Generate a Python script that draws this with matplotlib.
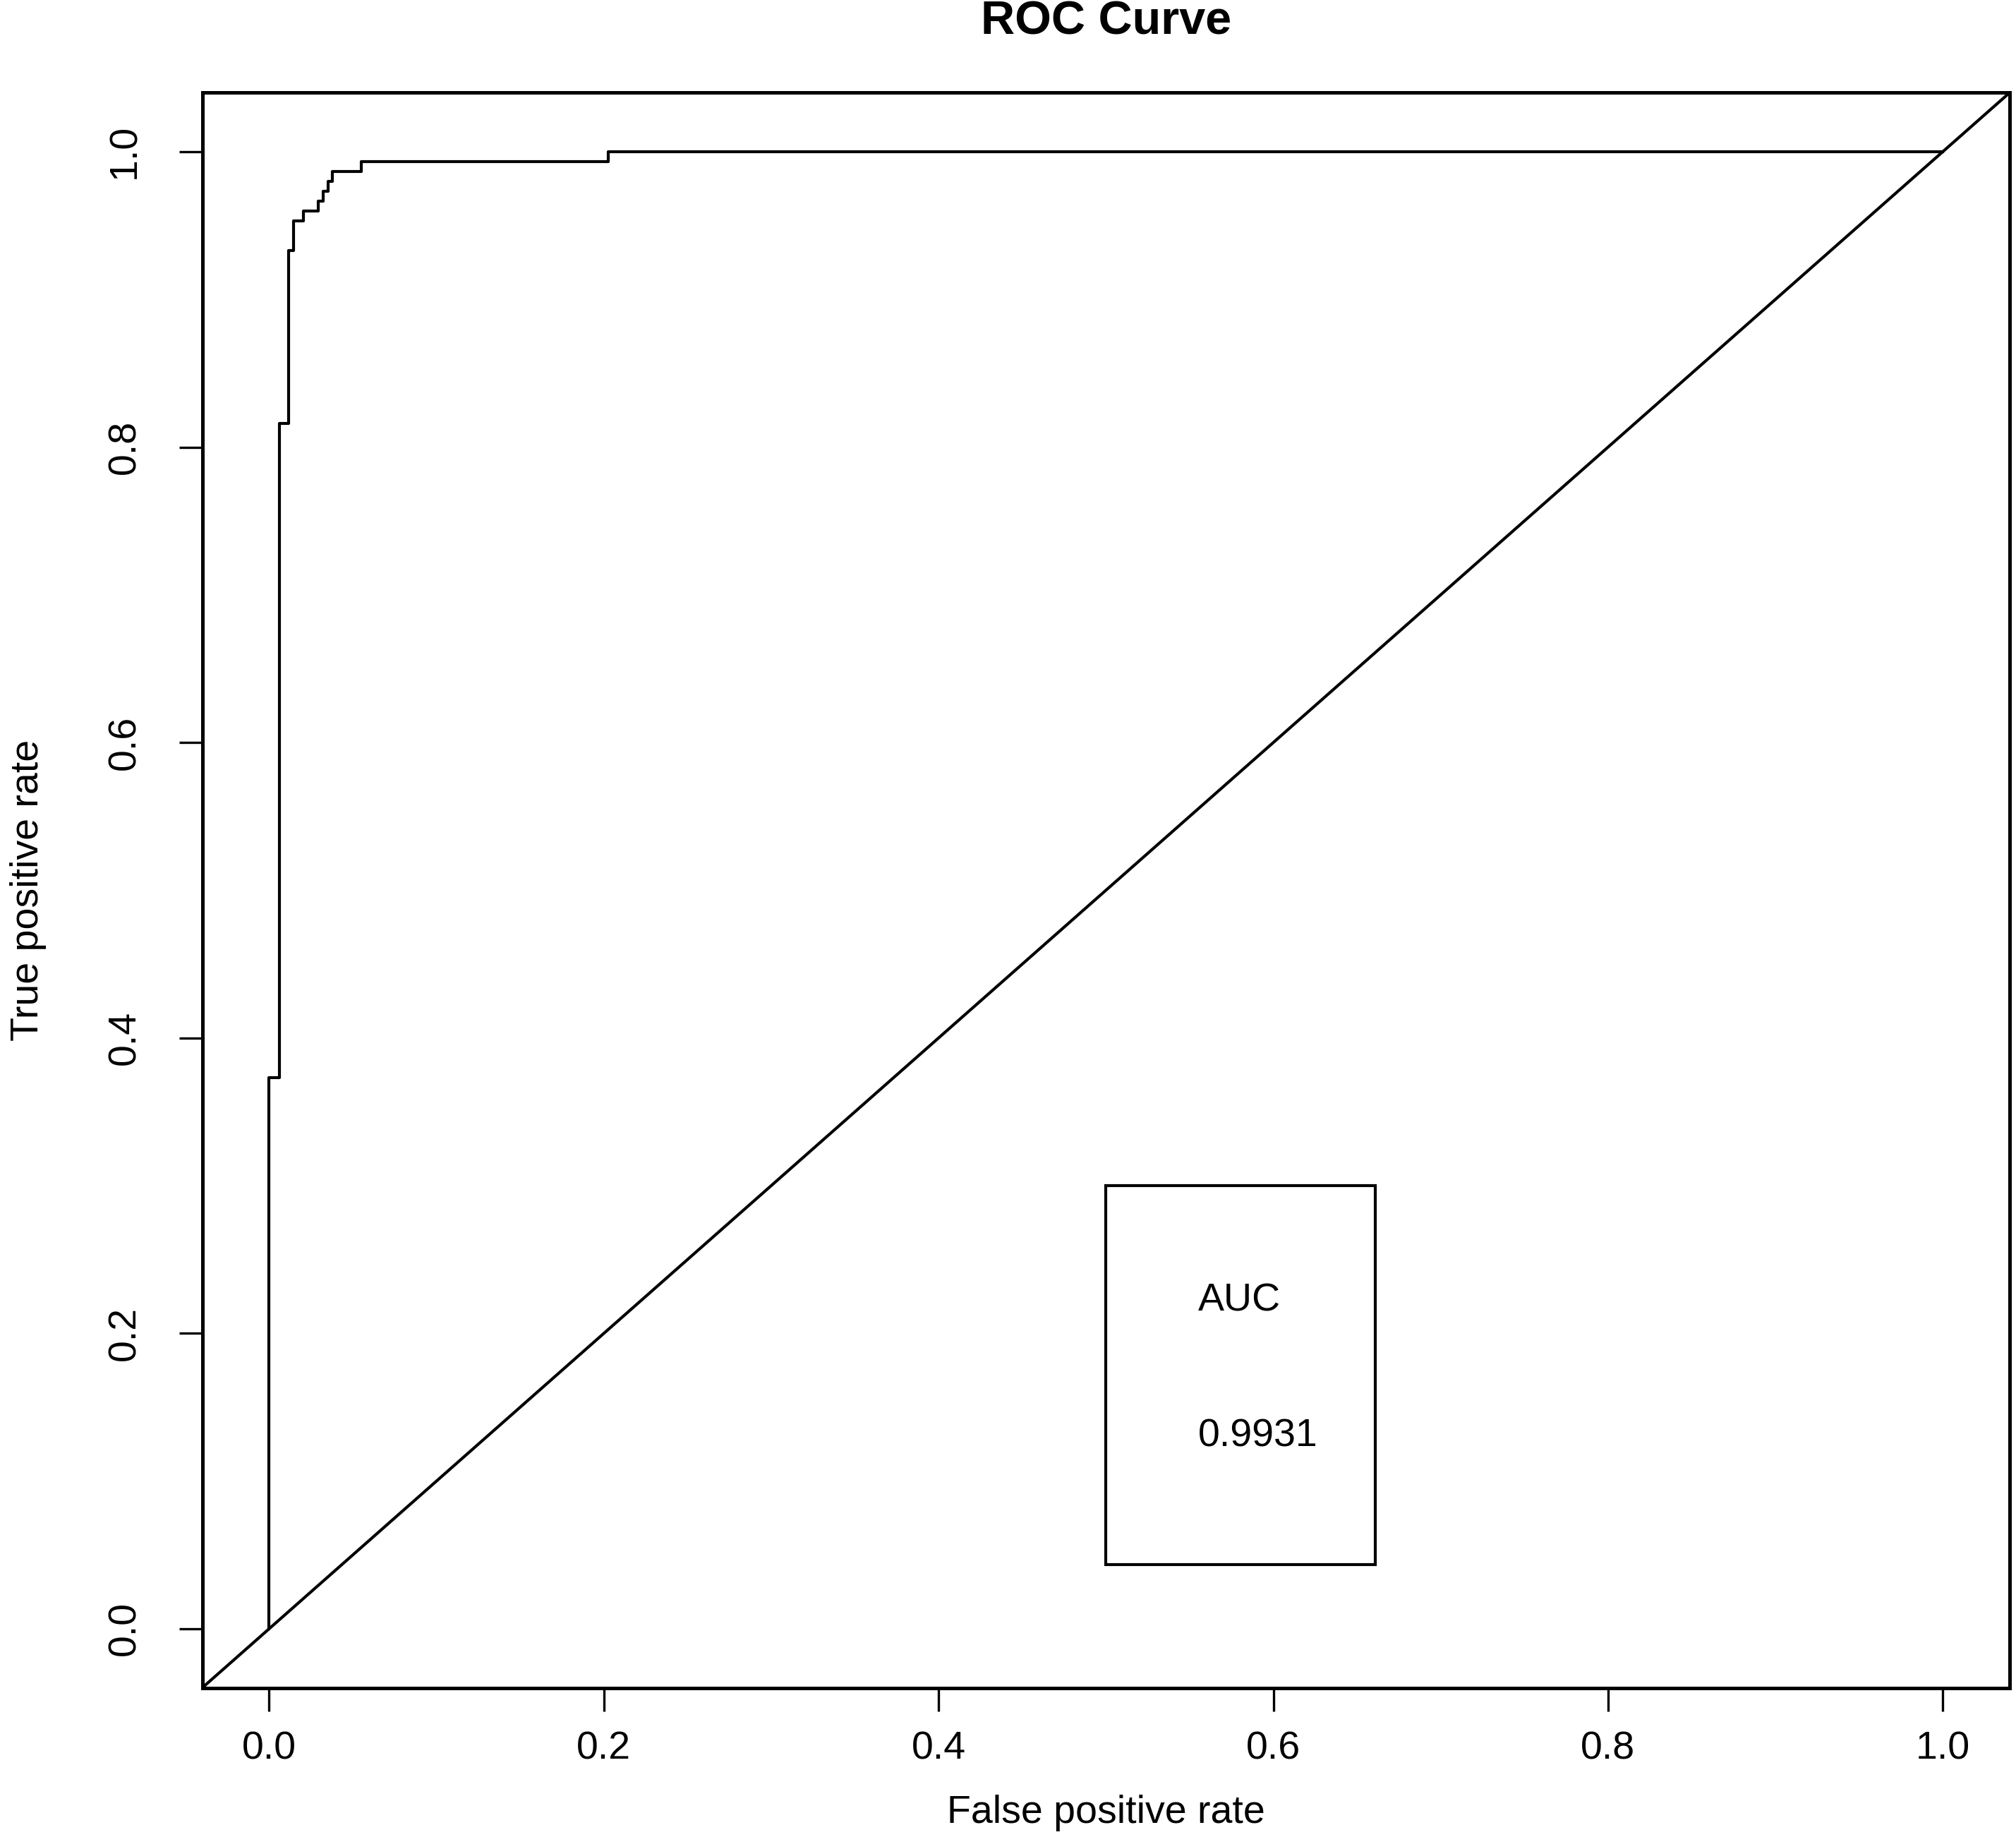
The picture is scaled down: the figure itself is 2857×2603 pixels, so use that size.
import matplotlib
matplotlib.use("Agg")
import matplotlib.pyplot as plt
from matplotlib.patches import Rectangle

plt.rcParams["font.family"] = ["Liberation Sans", "DejaVu Sans"]

# ROC curve vertices
fpr = [0.0, 0.0, 0.006, 0.006, 0.0117, 0.0117, 0.0145, 0.0145, 0.0204, 0.0204,
       0.0292, 0.0292, 0.0324, 0.0324, 0.0352, 0.0352, 0.0377, 0.0377, 0.055, 0.055,
       0.2026, 0.2026, 1.0]
tpr = [0.0, 0.3733, 0.3733, 0.816, 0.816, 0.9333, 0.9333, 0.9533, 0.9533, 0.96,
       0.96, 0.9667, 0.9667, 0.9733, 0.9733, 0.98, 0.98, 0.9867, 0.9867, 0.9933,
       0.9933, 1.0, 1.0]
ticks = [0.0, 0.2, 0.4, 0.6, 0.8, 1.0]
auc_label = "AUC"
auc_value = "0.9931"

fig = plt.figure(figsize=(2857 / 200, 2603 / 200), dpi=200)
ax = fig.add_axes([0.1003, 0.0812, 0.8966, 0.8684])
ax.set_xlim(-0.04, 1.04); ax.set_ylim(-0.04, 1.04)

ax.plot(fpr, tpr, color="black", lw=1.5)
ax.axline((0, 0), slope=1, color="black", lw=1.5)

# AUC box
ax.add_patch(Rectangle((0.5, 0.0435), 0.161, 0.2565, fc="none", ec="black", lw=1.5))
ax.text(0.555, 0.222, auc_label, ha="left", va="center", fontsize=20)
ax.text(0.555, 0.130, auc_value, ha="left", va="center", fontsize=20)

ax.set_xticks(ticks); ax.set_yticks(ticks)
ax.set_xticklabels([f"{t:.1f}" for t in ticks])
ax.set_yticklabels([f"{t:.1f}" for t in ticks], rotation=90, va="center")
ax.tick_params(axis="both", length=12, width=1.2, labelsize=20, direction="out")
ax.tick_params(axis="x", pad=10)
ax.tick_params(axis="y", pad=18)
for s in ax.spines.values():
    s.set_linewidth(1.8)

ax.set_xlabel("False positive rate", fontsize=20, va="center")
ax.xaxis.set_label_coords(0.5, -0.0784)
ax.set_ylabel("True positive rate", fontsize=20, va="center", ha="center")
ax.yaxis.set_label_coords(-0.0963, 0.5)
ax.set_title("ROC Curve", fontsize=24, fontweight="bold", y=1.044, pad=0, va="center")

fig.savefig("out.png", dpi=200)
